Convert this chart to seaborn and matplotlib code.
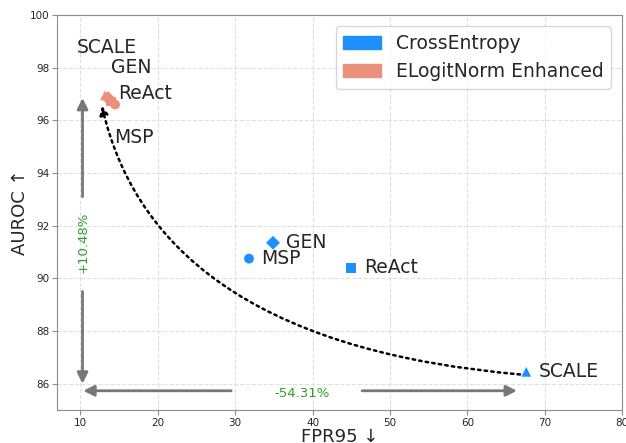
import numpy as np
import pandas as pd
import matplotlib.pyplot as plt
import seaborn as sns
from matplotlib.patches import Patch

# Values
methods = ['MSP', 'GEN', 'ReAct', 'SCALE']
ce_fpr = [31.8, 34.9, 45.0, 67.6]
ce_auroc = [90.75, 91.35, 90.4, 86.45]
eln_fpr = [14.5, 13.6, 14.0, 13.2]
eln_auroc = [96.6, 96.85, 96.72, 96.95]
auroc_gain = '+10.48%'
fpr_drop = '-54.31%'

sns.set_style('whitegrid', {
    'grid.linestyle': '--',
    'grid.color': '0.88',
    'axes.edgecolor': '0.55',
    'xtick.bottom': True,
    'ytick.left': True,
    'xtick.color': '0.55',
    'ytick.color': '0.55',
})
plt.rcParams['font.family'] = ['DejaVu Sans']
plt.rcParams['xtick.labelcolor'] = '0.15'
plt.rcParams['ytick.labelcolor'] = '0.15'

df = pd.DataFrame({
    'fpr': ce_fpr + eln_fpr,
    'auroc': ce_auroc + eln_auroc,
    'model': ['CrossEntropy'] * 4 + ['ELogitNorm Enhanced'] * 4,
    'method': methods * 2,
})

palette = {'CrossEntropy': '#1E8FFF', 'ELogitNorm Enhanced': '#E9917A'}
markers = {'MSP': 'o', 'GEN': 'D', 'ReAct': 's', 'SCALE': '^'}

fig = plt.figure(figsize=(6.26, 4.43), dpi=100)
ax = fig.add_axes([0.091, 0.0745, 0.903, 0.8915])

sns.scatterplot(data=df, x='fpr', y='auroc', hue='model', style='method',
                palette=palette, markers=markers, s=50, linewidth=0,
                legend=False, ax=ax, zorder=3)

# labels next to CrossEntropy points
for m, x, y in zip(methods, ce_fpr, ce_auroc):
    ax.annotate(m, (x, y), xytext=(9, 0), textcoords='offset points',
                fontsize=13.5, va='center', ha='left')

# labels for the ELogitNorm cluster
eln_label_pos = {'SCALE': (9.6, 98.75), 'GEN': (13.95, 98.0),
                 'ReAct': (14.9, 97.02), 'MSP': (14.4, 95.35)}
for m, (tx, ty) in eln_label_pos.items():
    ax.text(tx, ty, m, fontsize=13.5, va='center', ha='left')

# dotted improvement arrow
ax.annotate('', xy=(12.8, 96.55), xytext=(66.8, 86.35),
            arrowprops=dict(arrowstyle='-|>', linestyle=':', lw=1.8, color='black',
                            connectionstyle='angle3,angleA=175,angleB=-77',
                            shrinkA=0, shrinkB=0, mutation_scale=13))

# gray measurement arrows
gray = dict(arrowstyle='-|>', color='#777777', lw=2, mutation_scale=16,
            shrinkA=0, shrinkB=0)
ax.annotate('', xy=(10.3, 96.85), xytext=(10.3, 93.1), arrowprops=gray)
ax.annotate('', xy=(10.3, 86.0), xytext=(10.3, 89.5), arrowprops=gray)
ax.annotate('', xy=(10.4, 85.73), xytext=(29.5, 85.73), arrowprops=gray)
ax.annotate('', xy=(66.4, 85.73), xytext=(46.4, 85.73), arrowprops=gray)
ax.text(10.4, 91.35, auroc_gain, rotation=90, color='#2ca02c', fontsize=9.5,
        ha='center', va='center')
ax.text(38.7, 85.62, fpr_drop, color='#2ca02c', fontsize=9.5,
        ha='center', va='center')

ax.set_xlim(7, 80)
ax.set_ylim(85, 100)
ax.set_xticks(np.arange(10, 81, 10))
ax.set_yticks(np.arange(86, 101, 2))
ax.tick_params(labelsize=7.5, length=3.5, width=0.8, pad=2)
ax.set_xlabel('FPR95 ↓', fontsize=13, va='baseline')
ax.set_ylabel('AUROC ↑', fontsize=13, va='baseline')
ax.xaxis.set_label_coords(0.5, -0.081)
ax.yaxis.set_label_coords(-0.057, 0.5)

handles = [Patch(color=palette[k], label=k) for k in palette]
ax.legend(handles=handles, loc='upper right', fontsize=13.5, frameon=True,
          borderaxespad=0.6)

fig.savefig('out.png', dpi=100)
